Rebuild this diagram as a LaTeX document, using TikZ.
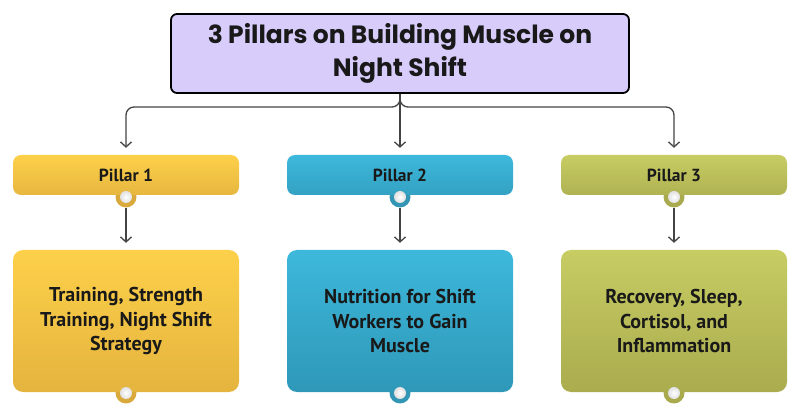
\documentclass[tikz,border=0pt]{standalone}
\usepackage{fontspec}
\setmainfont{PT Sans}
\newfontfamily\titlefont{Poppins}[UprightFont=* Bold]
\usetikzlibrary{arrows.meta}
\definecolor{lav}{HTML}{D8CCFB}
\definecolor{yelT}{HTML}{FDD04A}
\definecolor{yelB}{HTML}{E4B43E}
\definecolor{yelR}{HTML}{D9A93C}
\definecolor{bluT}{HTML}{3DB8DB}
\definecolor{bluB}{HTML}{2F98B8}
\definecolor{bluR}{HTML}{3396B5}
\definecolor{oliT}{HTML}{C7CC63}
\definecolor{oliB}{HTML}{AAAC4E}
\definecolor{oliR}{HTML}{A9AA4D}
\definecolor{lin}{HTML}{444444}
\tikzset{
  titlebox/.style={draw=black, line width=1.8pt, fill=lav, rounded corners=6pt,
    minimum width=458pt, minimum height=79pt, align=center, inner sep=0pt,
    font=\titlefont\fontsize{25}{33}\selectfont, text=black!90},
  pillbox/.style={rounded corners=8pt, minimum width=226pt, minimum height=40pt,
    inner sep=0pt, font=\bfseries\fontsize{17.5}{20}\selectfont, text=black!90},
  contbox/.style={rounded corners=10pt, minimum width=226pt, minimum height=142pt,
    inner sep=0pt, align=center, font=\bfseries\fontsize{20}{24.5}\selectfont, text=black!90},
  ring/.style={circle, minimum size=21pt, inner sep=0pt},
  dot/.style={circle, minimum size=12pt, inner sep=0pt, inner color=white, outer color=black!12},
  conn/.style={draw=lin, line width=1.3pt, -{Straight Barb[length=5pt,width=11pt,line width=1.3pt]}},
}
\begin{document}
\begin{tikzpicture}[x=1pt,y=-1pt]
\useasboundingbox (0,0) rectangle (800,419);
% title
\node[titlebox] (title) at (400,53.5) {3 Pillars on Building Muscle on\\Night Shift};
\coordinate (split) at (400,107);
% rings behind boxes
\node[ring, fill=yelR] (r1) at (126,197) {};
\node[ring, fill=bluR] (r2) at (400,197) {};
\node[ring, fill=oliR] (r3) at (674,197) {};
\node[ring, fill=yelR] (s1) at (126,393) {};
\node[ring, fill=bluR] (s2) at (400,393) {};
\node[ring, fill=oliR] (s3) at (674,393) {};
% pillar boxes
\node[pillbox, top color=yelT, bottom color=yelB!90!yelT] (p1) at (126,175) {Pillar 1};
\node[pillbox, top color=bluT, bottom color=bluB!70!bluT] (p2) at (400,175) {Pillar 2};
\node[pillbox, top color=oliT, bottom color=oliB!80!oliT] (p3) at (674,175) {Pillar 3};
% content boxes
\node[contbox, top color=yelT, bottom color=yelB] (b1) at (126,321) {Training, Strength\\Training, Night Shift\\Strategy};
\node[contbox, top color=bluT, bottom color=bluB] (b2) at (400,321) {Nutrition for Shift\\Workers to Gain\\Muscle};
\node[contbox, top color=oliT, bottom color=oliB] (b3) at (674,321) {Recovery, Sleep,\\Cortisol, and\\Inflammation};
% white dots
\node[dot] (d1) at (r1) {};
\node[dot] (d2) at (r2) {};
\node[dot] (d3) at (r3) {};
\node[dot] (e1) at (s1) {};
\node[dot] (e2) at (s2) {};
\node[dot] (e3) at (s3) {};
% connectors
\draw[conn, rounded corners=8pt, shorten >=7pt] (title.south) -- (split) -| (p1.north);
\draw[conn, rounded corners=8pt, shorten >=7pt] (title.south) -- (split) -| (p3.north);
\draw[conn, shorten >=7pt] (title.south) -- (p2.north);
\draw[conn, shorten >=7pt] (r1.south) -- (b1.north);
\draw[conn, shorten >=7pt] (r2.south) -- (b2.north);
\draw[conn, shorten >=7pt] (r3.south) -- (b3.north);
\end{tikzpicture}
\end{document}
